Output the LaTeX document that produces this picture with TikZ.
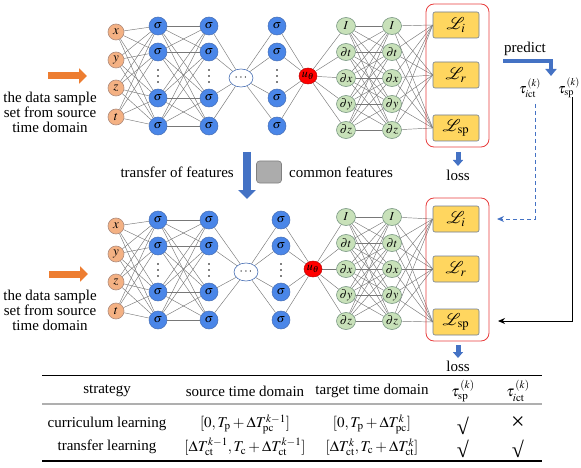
\documentclass[tikz,border=0pt]{standalone}
\usepackage{mathptmx}
\usepackage[no-math]{fontspec}
\setmainfont{Liberation Serif}
\usetikzlibrary{arrows.meta,calc,shapes.geometric,backgrounds}
\definecolor{inorange}{RGB}{244,177,131}
\definecolor{inorangeb}{RGB}{175,140,125}
\definecolor{sigblue}{RGB}{74,134,232}
\definecolor{sigblueb}{RGB}{70,110,180}
\definecolor{grn}{RGB}{200,225,185}
\definecolor{grnb}{RGB}{120,150,130}
\definecolor{lossy}{RGB}{255,214,95}
\definecolor{lossb}{RGB}{110,125,150}
\definecolor{redbox}{RGB}{232,62,62}
\definecolor{arrblue}{RGB}{68,114,196}
\definecolor{arrorange}{RGB}{237,125,49}
\definecolor{connc}{RGB}{120,120,120}
\definecolor{rulegray}{RGB}{175,175,175}
\tikzset{
  innode/.style={circle, fill=inorange, draw=inorangeb, line width=0.6pt, minimum size=16pt, inner sep=0pt, font=\fontsize{13}{13}\selectfont},
  signode/.style={circle, fill=sigblue, draw=sigblueb, line width=0.5pt, minimum size=18pt, inner sep=0pt, font=\fontsize{12}{12}\selectfont},
  grnnode/.style={ellipse, fill=grn, draw=grnb, line width=0.6pt, minimum width=19pt, minimum height=17pt, inner sep=0pt, font=\fontsize{12}{12}\selectfont},
  unode/.style={ellipse, fill=red, draw=red!75!black, line width=0.5pt, minimum width=18pt, minimum height=16pt, inner sep=0pt, font=\fontsize{12}{12}\selectfont},
  ellnode/.style={ellipse, fill=white, draw=sigblueb, line width=0.6pt, minimum width=24pt, minimum height=18pt, inner sep=0pt, font=\fontsize{12}{12}\selectfont},
  vdot/.style={circle, fill=black, inner sep=0pt, minimum size=1.8pt},
  lossbox/.style={rectangle, rounded corners=2pt, fill=lossy, draw=lossb, line width=0.6pt, minimum width=46pt, minimum height=26pt, inner sep=0pt, font=\fontsize{17}{17}\selectfont},
  conn/.style={draw=connc, line width=0.45pt},
  txt/.style={inner sep=0pt, font=\fontsize{15}{15}\selectfont},
  bigarrow/.style={line width=7pt, -{Triangle[length=8pt,width=15pt]}},
}
\begin{document}
\begin{tikzpicture}[x=1pt,y=-1pt]
\useasboundingbox (0,0) rectangle (581,468);
\foreach \n/\dy/\dg/\db/\ex/\lx/\ux/\uy in {a/0/0/0/241/277/308/76, b/194/191/194/246/281/313/269} {
  \foreach \v/\i/\yy in {x/1/32, y/2/60, z/3/88, t/4/117}
    \node[innode] (in\n\i) at (116,\yy+\dy) {$\v$};
  \foreach \L/\xx in {p/158, q/209, r/\lx} {
    \foreach \i/\yy in {1/26, 2/52, 3/98, 4/126}
      \node[signode] (\L\n\i) at (\xx,\yy+\dy) {$\sigma$};
    \foreach \k/\dd in {1/-6, 2/0, 3/6}
      \node[vdot] (\L\n d\k) at (\xx,76+\dy+\dd) {};
  }
  \node[ellnode] (el\n) at (\ex,78+\dy) {$\cdots$};
  \node[unode] (u\n) at (\ux,\uy) {$u_\theta$};
  \foreach \G/\xx in {g/346, h/392}
    \foreach \v/\i/\yy in {I/1/26, \partial t/2/52, \partial x/3/78, \partial y/4/104, \partial z/5/130}
      \node[grnnode] (\G\n\i) at (\xx,\yy+\dg) {$\v$};
  \node[lossbox] (bx\n1) at (456,25+\db) {$\mathcal{L}_i$};
  \node[lossbox] (bx\n2) at (456,75+\db) {$\mathcal{L}_r$};
  \node[lossbox] (bx\n3) at (456,128+\db) {$\mathcal{L}_{\mathrm{sp}}$};
  \draw[redbox, line width=0.8pt, rounded corners=8pt] (426,4+\db) rectangle (489,147+\db);
  \begin{pgfonlayer}{background}
  \foreach \i in {1,...,4} \foreach \j in {1,...,4} {
    \draw[conn] (in\n\i) -- (p\n\j);
    \draw[conn] (p\n\i) -- (q\n\j);
  }
  \foreach \i in {1,...,4} {
    \draw[conn] (q\n\i) -- (el\n);
    \draw[conn] (el\n) -- (r\n\i);
    \draw[conn] (r\n\i) -- (u\n);
  }
  \foreach \i in {1,...,5} {
    \draw[conn] (u\n) -- (g\n\i);
    \foreach \j in {1,...,5} \draw[conn] (g\n\i) -- (h\n\j);
    \foreach \j in {1,2,3} \draw[conn] (h\n\i) -- (bx\n\j.west);
  }
  \end{pgfonlayer}
}
\draw[arrorange, bigarrow] (48,76) -- (87,76);
\draw[arrorange, bigarrow] (49,274) -- (88,274);
\node[txt, align=center] (srcA) at (50,112) {the data sample\\set from source\\time domain};
\node[txt, align=center] (srcB) at (50,310) {the data sample\\set from source\\time domain};
\draw[arrblue, line width=8pt, -{Triangle[length=9pt,width=17pt]}] (247,152) -- (247,199);
\node[txt, anchor=east] (trf) at (234,172) {transfer of features};
\node[rectangle, rounded corners=3pt, fill=gray!65, draw=gray, line width=0.6pt, minimum width=25pt, minimum height=22pt] (cf) at (269,172) {};
\node[txt, anchor=west] (cft) at (289,172) {common features};
\draw[arrblue, line width=5pt, -{Triangle[length=6pt,width=10pt]}] (458,152) -- (458,166);
\node[txt] (lossA) at (458,175) {loss};
\draw[arrblue, line width=5pt, -{Triangle[length=6pt,width=10pt]}] (458,345) -- (458,358);
\node[txt] (lossB) at (458,366) {loss};
\node[txt] (pred) at (525,49) {predict};
\draw[arrblue, line width=4pt, -{Triangle[length=7pt,width=11pt]}] (503,61) -- (551,61) -- (551,76);
\node[inner sep=0pt, font=\fontsize{14}{14}\selectfont] (tauict) at (530,88) {$\tau_{i\mathrm{ct}}^{\,(k)}$};
\node[inner sep=0pt, font=\fontsize{14}{14}\selectfont] (tausp) at (569,88) {$\tau_{\mathrm{sp}}^{\,(k)}$};
\coordinate (dA) at (535,104);
\coordinate (dB) at (497,219);
\draw[arrblue, dash pattern=on 4pt off 3pt, line width=1pt, -{Stealth[length=7pt,width=6pt]}] (dA) |- (dB);
\coordinate (sA) at (572,97);
\coordinate (sB) at (498,321);
\draw[black, line width=1pt, -{Stealth[length=7pt,width=6pt]}] (sA) |- (sB);
\draw[black, line width=1pt] (42,375) -- (542,375);
\draw[rulegray, line width=1.5pt] (42,404) -- (542,404);
\draw[black, line width=1.2pt] (42,461) -- (542,461);
\begin{scope}[every node/.style={txt}]
\node (h1) at (107,391) {strategy};
\node (h2) at (245,391) {source time domain};
\node (h3) at (372,391) {target time domain};
\node (h4) at (463,391) {$\tau_{\mathrm{sp}}^{\,(k)}$};
\node (h5) at (518,391) {$\tau_{i\mathrm{ct}}^{\,(k)}$};
\node (a1) at (107,424) {curriculum learning};
\node (a2) at (245,424) {$[0,T_{\mathrm p}+\Delta T_{\mathrm{pc}}^{k-1}]$};
\node (a3) at (372,424) {$[0,T_{\mathrm p}+\Delta T_{\mathrm{pc}}^{k}]$};
\node[font=\fontsize{22}{22}\selectfont] (a4) at (463,426) {√};
\node[font=\fontsize{24}{24}\selectfont] (a5) at (518,423) {×};
\node (b1) at (107,447) {transfer learning};
\node (b2) at (245,447) {$[\Delta T_{\mathrm{ct}}^{k-1},T_{\mathrm c}+\Delta T_{\mathrm{ct}}^{k-1}]$};
\node (b3) at (372,447) {$[\Delta T_{\mathrm{ct}}^{k},T_{\mathrm c}+\Delta T_{\mathrm{ct}}^{k}]$};
\node[font=\fontsize{22}{22}\selectfont] (b4) at (463,449) {√};
\node[font=\fontsize{22}{22}\selectfont] (b5) at (518,449) {√};
\end{scope}
\end{tikzpicture}
\end{document}
